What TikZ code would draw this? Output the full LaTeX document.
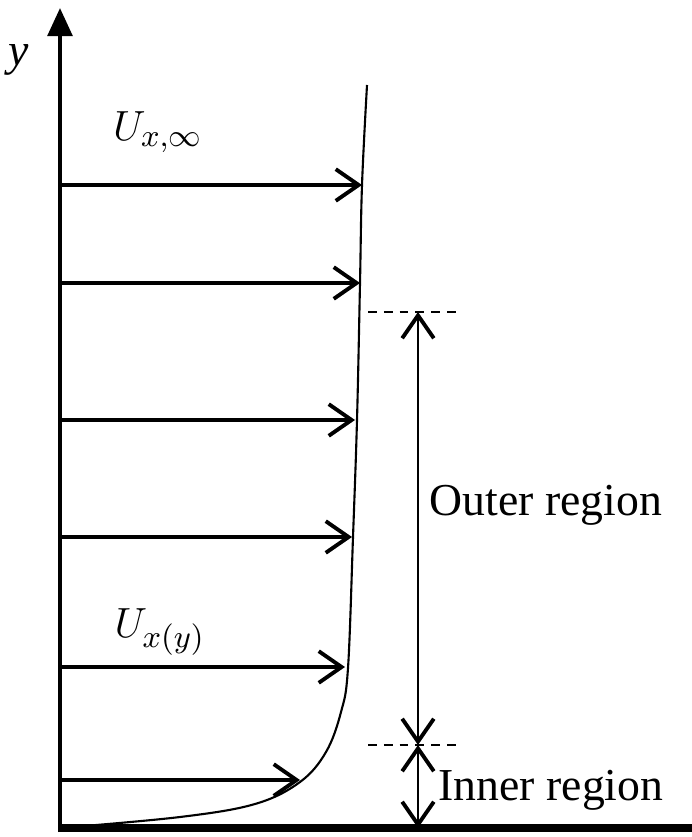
\documentclass[tikz,border=0pt]{standalone}
\usepackage{fontspec}
\setmainfont{Liberation Serif}
\usetikzlibrary{arrows.meta}

\tikzset{
  velarrow/.style={line width=1pt, -{Straight Barb[length=6.5pt,width=9pt,line width=1.1pt]}},
  regionarrow/.style={line width=0.8pt, {Straight Barb[length=6.5pt,width=9pt,line width=1.1pt]}-{Straight Barb[length=6.5pt,width=9pt,line width=1.1pt]}},
  bound/.style={dashed, dash pattern=on 2.5pt off 2pt, line width=0.4pt},
  lbl/.style={font=\fontsize{13}{15}\selectfont, inner sep=0pt}
}

\begin{document}
\begin{tikzpicture}[x=0.01cm, y=-0.01cm]
    \useasboundingbox (0,0) rectangle (692,837);

    % axes and wall
    \coordinate (O) at (60,828);
    \coordinate (Ytop) at (60,8);
    \draw[line width=1.2pt, -{Triangle[length=8pt,width=7pt]}] (60,832) -- (Ytop);
    \node[lbl, font=\fontsize{13}{15}\selectfont\itshape] (ylab) at (19,60) {y};
    \draw[line width=2.4pt] (58,828) -- (692,828);

    % velocity profile
    \draw[line width=0.6pt] plot[smooth, tension=0.6] coordinates {
      (60,828) (180,817) (255,804) (300,782) (326,752) (341,712)
      (348,668) (353,537) (357,420) (360,283) (362,185) (367,85)};

    % velocity vectors
    \foreach \yy/\xx [count=\i] in {185/362, 283/360, 420/355, 537/352, 667/345, 780/300} {
      \coordinate (base\i) at (60,\yy);
      \coordinate (tip\i) at (\xx,\yy);
      \draw[velarrow] (base\i) -- (tip\i);
    }
    \node[lbl] (uinf) at (158,132) {$U_{x,\infty}$};
    \node[lbl] (uy) at (160,632) {$U_{x(y)}$};

    % regions
    \coordinate (d1a) at (368,312);
    \coordinate (d1b) at (456,312);
    \coordinate (d2a) at (368,745);
    \coordinate (d2b) at (456,745);
    \draw[bound] (d1a) -- (d1b);
    \draw[bound] (d2a) -- (d2b);
    \coordinate (r1) at (418,312);
    \coordinate (r2) at (418,745);
    \coordinate (r3) at (418,828);
    \draw[regionarrow] (r1) -- (r2);
    \draw[regionarrow] (r2) -- (r3);
    \node[lbl] (outer) at (546,505) {Outer region};
    \node[lbl, anchor=west] (inner) at (438,790) {Inner region};
\end{tikzpicture}
\end{document}
